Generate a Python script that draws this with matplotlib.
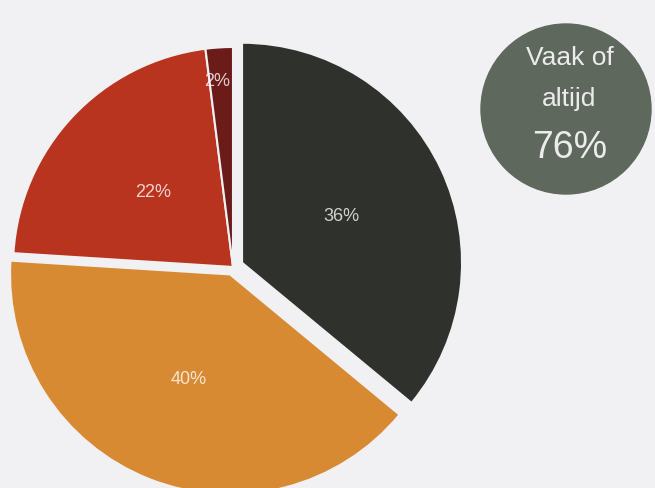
import numpy as np
import matplotlib.pyplot as plt
from matplotlib.patches import Circle

plt.rcParams["font.family"] = ["Liberation Sans", "DejaVu Sans"]

# data
shares = [36, 40, 22, 2]
labels = ["36%", "40%", "22%", "2%"]
colors = ["#2f312d", "#d88a32", "#b9341f", "#6b1c19"]
summary_lines = ["Vaak of", "altijd"]
summary_value = "76%"

W, H = 655, 489
bg = "#f1f1f3"
fig = plt.figure(figsize=(W / 100, H / 100), dpi=100)
fig.patch.set_facecolor(bg)

# pie axes in pixel units, center of the pie at (233, 268) in image px
cx, cy, half = 233, 268, 240
ax = fig.add_axes([(cx - half) / W, (H - cy - half) / H, 2 * half / W, 2 * half / H])

r = 220
explode = [10, 8, 0, 0]  # pixels (pie uses absolute offsets)
wedges, _ = ax.pie(shares, colors=colors, startangle=90, counterclock=False,
                   radius=r, explode=explode,
                   wedgeprops=dict(edgecolor=bg, linewidth=1.5))
ax.set_xlim(-half, half)
ax.set_ylim(-half, half)
ax.set_aspect("equal")
ax.axis("off")

label_dist = [0.50, 0.51, 0.50, 0.85]
for w, lab, d in zip(wedges, labels, label_dist):
    ang = np.deg2rad((w.theta1 + w.theta2) / 2)
    ox, oy = w.center
    ax.text(ox + d * r * np.cos(ang) - (4 if lab == "2%" else 0),
            oy + d * r * np.sin(ang), lab,
            ha="center", va="center", color="white", alpha=0.78, fontsize=13)

# summary bubble
bx = fig.add_axes([0, 0, 1, 1])
bx.set_xlim(0, W)
bx.set_ylim(H, 0)
bx.axis("off")
bx.add_patch(Circle((566, 110), 85, color="#5e685c"))
bx.text(570, 58, summary_lines[0], ha="center", va="center", color="#ececec", fontsize=19)
bx.text(569, 99, summary_lines[1], ha="center", va="center", color="#ececec", fontsize=19)
bx.text(570, 148, summary_value, ha="center", va="center", color="#ececec", fontsize=27)

fig.savefig("out.png", dpi=100, facecolor=fig.get_facecolor())
